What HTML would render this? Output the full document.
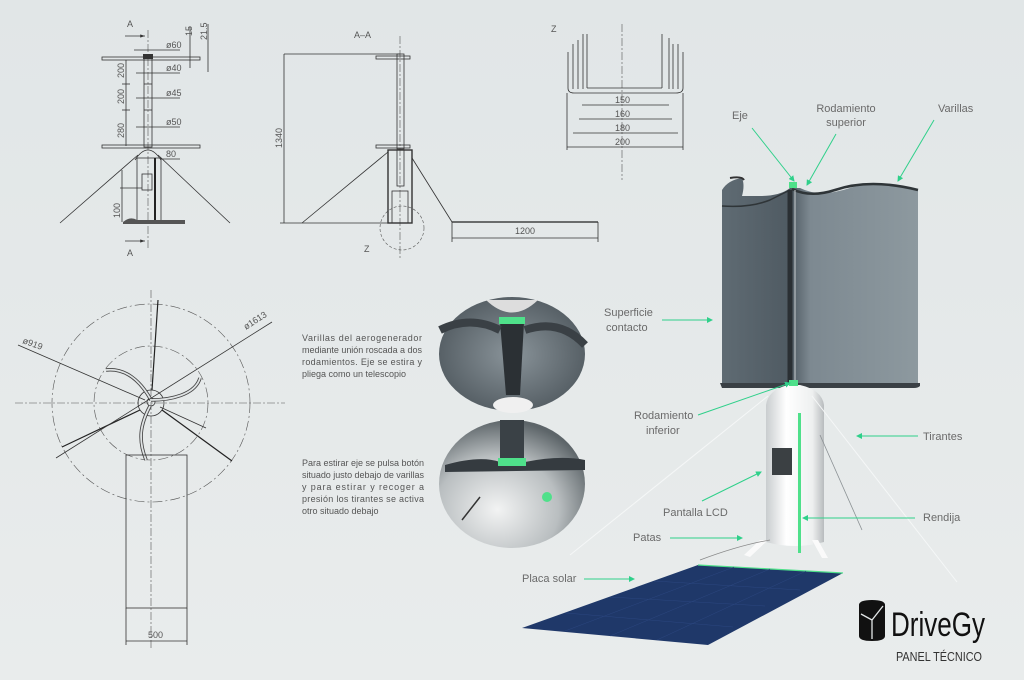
<!DOCTYPE html>
<html><head><meta charset="utf-8"><style>
html,body{margin:0;padding:0;width:1024px;height:680px;overflow:hidden;background:#e3e7e8;}
svg{display:block;font-family:"Liberation Sans",sans-serif;}
.t{font-size:9px;fill:#555;}
.l{font-size:11px;fill:#6a6a6a;}
.d{stroke:#333;stroke-width:0.8;fill:none;}
.c{stroke:#555;stroke-width:0.6;stroke-dasharray:8 2 2 2;fill:none;}
.g{stroke:#2fd08a;stroke-width:1;fill:none;}
.p{font-size:9px;fill:#555;}
</style></head><body>
<svg width="1024" height="680" viewBox="0 0 1024 680">
<defs>
<linearGradient id="bg" x1="0" y1="0" x2="0" y2="1"><stop offset="0" stop-color="#e1e6e7"/><stop offset="1" stop-color="#e9ecec"/></linearGradient>
<linearGradient id="cyl" x1="0" y1="0" x2="1" y2="0"><stop offset="0" stop-color="#c9cdcf"/><stop offset="0.35" stop-color="#ffffff"/><stop offset="0.8" stop-color="#eef0f0"/><stop offset="1" stop-color="#b8bcbe"/></linearGradient>
<linearGradient id="bl" x1="0" y1="0" x2="1" y2="0"><stop offset="0" stop-color="#5f6b73"/><stop offset="0.35" stop-color="#4f5a62"/><stop offset="0.45" stop-color="#7d8991"/><stop offset="1" stop-color="#8d999f"/></linearGradient>
<radialGradient id="ins1" cx="0.5" cy="0.5" r="0.6"><stop offset="0" stop-color="#8a949a"/><stop offset="1" stop-color="#4d565c"/></radialGradient>
<radialGradient id="ins2" cx="0.4" cy="0.7" r="0.7"><stop offset="0" stop-color="#f2f3f3"/><stop offset="0.6" stop-color="#b9bec0"/><stop offset="1" stop-color="#5d6569"/></radialGradient>
<marker id="ar" markerWidth="6" markerHeight="6" refX="5" refY="3" orient="auto"><path d="M0,0 L6,3 L0,6 z" fill="#2fd08a"/></marker>
<marker id="da" markerWidth="6" markerHeight="4" refX="6" refY="2" orient="auto"><path d="M0,0 L6,2 L0,4 z" fill="#333"/></marker>
</defs>
<rect width="1024" height="680" fill="url(#bg)"/>

<!-- Left elevation -->
<g>
<line class="c" x1="148" y1="30" x2="148" y2="248"/>
<text class="p" x="127" y="27">A</text><text class="p" x="127" y="256">A</text>
<path d="M125,36 h20" class="d" marker-end="url(#da)"/><path d="M125,241 h20" class="d" marker-end="url(#da)"/>
<rect x="102" y="57" width="98" height="3" class="d"/>
<rect x="102" y="145" width="98" height="3" class="d"/>
<rect x="144" y="57" width="8" height="90" class="d"/>
<line class="d" x1="144" y1="84" x2="152" y2="84"/><line class="d" x1="144" y1="110" x2="152" y2="110"/>
<rect x="143" y="54" width="10" height="5" fill="#333"/>
<path d="M135,160 Q148,140 161,160" class="d"/>
<rect x="137" y="158" width="24" height="65" class="d"/>
<rect x="142" y="174" width="10" height="16" class="d"/>
<line x1="155" y1="158" x2="155" y2="223" stroke="#222" stroke-width="2"/>
<path d="M123,222 Q130,216 137,220 L185,220 L185,224 L123,224z" fill="#555"/>
<line class="d" x1="138" y1="155" x2="60" y2="223"/><line class="d" x1="158" y1="155" x2="230" y2="223"/>
<line class="d" x1="126" y1="60" x2="126" y2="146"/>
<line class="d" x1="122" y1="84" x2="130" y2="84"/><line class="d" x1="122" y1="110" x2="130" y2="110"/>
<text class="p" transform="translate(124,78) rotate(-90)">200</text>
<text class="p" transform="translate(124,104) rotate(-90)">200</text>
<text class="p" transform="translate(124,138) rotate(-90)">280</text>
<line class="d" x1="134" y1="50" x2="180" y2="50"/><text class="p" x="166" y="48">ø60</text>
<line class="d" x1="136" y1="73" x2="180" y2="73"/><text class="p" x="166" y="71">ø40</text>
<line class="d" x1="136" y1="98" x2="180" y2="98"/><text class="p" x="166" y="96">ø45</text>
<line class="d" x1="136" y1="127" x2="180" y2="127"/><text class="p" x="166" y="125">ø50</text>
<line class="d" x1="190" y1="27" x2="190" y2="68"/><text class="p" transform="translate(192,36) rotate(-90)">15</text>
<line class="d" x1="208" y1="24" x2="208" y2="72"/><text class="p" transform="translate(207,40) rotate(-90)">21.5</text>
<text class="p" x="166" y="157">80</text><line class="d" x1="160" y1="159" x2="180" y2="159"/>
<line class="d" x1="122" y1="170" x2="122" y2="222"/><line class="d" x1="120" y1="188" x2="142" y2="188"/>
<text class="p" transform="translate(120,218) rotate(-90)">100</text>
</g>

<!-- A-A section -->
<g>
<text class="p" x="354" y="38">A–A</text>
<line class="c" x1="400" y1="36" x2="400" y2="258"/>
<rect x="376" y="56" width="34" height="3" class="d"/>
<rect x="376" y="145" width="34" height="3" class="d"/>
<rect x="397" y="54" width="7" height="95" class="d"/>
<rect x="388" y="150" width="24" height="73" fill="none" stroke="#333" stroke-width="1.4"/>
<rect x="397" y="150" width="7" height="36" class="d"/><rect x="392" y="191" width="16" height="32" class="d"/>
<line class="d" x1="284" y1="54" x2="400" y2="54"/><line class="d" x1="284" y1="54" x2="284" y2="223"/>
<line class="d" x1="280" y1="223" x2="390" y2="223"/>
<text class="p" transform="translate(282,148) rotate(-90)">1340</text>
<line class="d" x1="388" y1="152" x2="302" y2="223"/>
<line class="d" x1="412" y1="158" x2="452" y2="222"/>
<line x1="452" y1="222" x2="598" y2="222" stroke="#222" stroke-width="1.3"/>
<line class="d" x1="452" y1="222" x2="452" y2="242"/><line class="d" x1="598" y1="222" x2="598" y2="242"/>
<line class="d" x1="452" y1="238" x2="598" y2="238"/><text class="p" x="515" y="234">1200</text>
<circle cx="402" cy="228" r="22" fill="none" stroke="#555" stroke-width="0.6" stroke-dasharray="3 2"/>
<text class="p" x="364" y="252">Z</text>
</g>

<!-- Z detail -->
<g>
<text class="p" x="551" y="32">Z</text>
<line class="c" x1="622" y1="24" x2="622" y2="180"/>
<path d="M568,52 V88 Q568,93 574,93 H676 Q683,93 683,88 V52" class="d"/>
<line class="d" x1="573" y1="44" x2="573" y2="89"/><line class="d" x1="578" y1="40" x2="578" y2="89"/><line class="d" x1="583" y1="34" x2="583" y2="89"/>
<line class="d" x1="587" y1="34" x2="587" y2="88"/><line class="d" x1="587" y1="88" x2="662" y2="88"/>
<line class="d" x1="662" y1="34" x2="662" y2="88"/><line class="d" x1="669" y1="38" x2="669" y2="89"/><line class="d" x1="673" y1="44" x2="673" y2="89"/><line class="d" x1="678" y1="44" x2="678" y2="89"/>
<line class="d" x1="582" y1="105" x2="669" y2="105"/><text class="p" x="615" y="103">150</text>
<line class="d" x1="579" y1="119" x2="672" y2="119"/><text class="p" x="615" y="117">160</text>
<line class="d" x1="573" y1="133" x2="678" y2="133"/><text class="p" x="615" y="131">180</text>
<line class="d" x1="567" y1="147" x2="683" y2="147"/><text class="p" x="615" y="145">200</text>
<line class="d" x1="567" y1="93" x2="567" y2="150"/><line class="d" x1="683" y1="93" x2="683" y2="150"/>
</g>

<!-- Top view -->
<g>
<line class="c" x1="15" y1="403" x2="285" y2="403"/>
<line class="c" x1="151" y1="290" x2="151" y2="650"/>
<circle cx="151" cy="403" r="99" fill="none" stroke="#555" stroke-width="0.6" stroke-dasharray="10 3 2 3"/>
<circle cx="151" cy="403" r="57" fill="none" stroke="#555" stroke-width="0.6" stroke-dasharray="10 3 2 3"/>
<circle cx="151" cy="403" r="13" class="d"/><circle cx="151" cy="402" r="4" class="d"/>
<line x1="152" y1="390" x2="158" y2="300" stroke="#222" stroke-width="1.2"/>
<line x1="140" y1="410" x2="62" y2="447" stroke="#222" stroke-width="1.2"/>
<line x1="162" y1="410" x2="232" y2="461" stroke="#222" stroke-width="1.2"/>
<path d="M151,400 C140,380 125,368 106,370 M151,400 C170,400 195,395 200,378 M150,406 C140,425 138,440 146,460" stroke="#444" stroke-width="3.5" fill="none"/>
<path d="M151,400 C140,380 125,368 106,370 M151,400 C170,400 195,395 200,378 M150,406 C140,425 138,440 146,460" stroke="#dfe3e4" stroke-width="1.8" fill="none"/>
<line class="d" x1="18" y1="345" x2="145" y2="400"/><text class="p" transform="translate(22,343) rotate(20)">ø919</text>
<line class="d" x1="56" y1="458" x2="272" y2="322"/><text class="p" transform="translate(246,330) rotate(-33)">ø1613</text>
<line class="d" x1="160" y1="407" x2="206" y2="428"/>
<rect x="126" y="455" width="61" height="153" class="d"/>
<line class="d" x1="126" y1="608" x2="126" y2="645"/><line class="d" x1="187" y1="608" x2="187" y2="645"/>
<line class="d" x1="126" y1="641" x2="187" y2="641"/><text class="p" x="148" y="638">500</text>
</g>

<!-- Text blocks -->
<g class="t">
<text x="302" y="341" textLength="120">Varillas del aerogenerador</text>
<text x="302" y="353" textLength="120">mediante unión roscada a dos</text>
<text x="302" y="365" textLength="120">rodamientos. Eje se estira y</text>
<text x="302" y="377">pliega como un telescopio</text>
<text x="302" y="466" textLength="122">Para estirar eje se pulsa botón</text>
<text x="302" y="478" textLength="122">situado justo debajo de varillas</text>
<text x="302" y="490" textLength="122">y para estirar y recoger a</text>
<text x="302" y="502" textLength="122">presión los tirantes se activa</text>
<text x="302" y="514">otro situado debajo</text>
</g>

<!-- Insets -->
<ellipse cx="512" cy="354" rx="73" ry="57" fill="url(#ins1)"/>
<path d="M486,300 Q512,325 538,300" fill="#ddd"/>
<path d="M500,322 L524,322 L520,395 L506,395z" fill="#2b3034"/>
<rect x="499" y="317" width="26" height="7" fill="#4fe08a"/>
<path d="M440,330 Q470,315 500,330 M525,330 Q560,318 585,345" stroke="#3a4045" stroke-width="8" fill="none"/>
<ellipse cx="513" cy="405" rx="20" ry="8" fill="#f0f0f0"/>
<ellipse cx="512" cy="484" rx="73" ry="64" fill="url(#ins2)"/>
<rect x="500" y="420" width="24" height="40" fill="#3a4146"/>
<path d="M445,465 Q480,455 500,462 L525,462 Q560,455 585,460 L585,470 L445,472z" fill="#353b40"/>
<rect x="498" y="458" width="28" height="8" fill="#4fe08a"/>
<circle cx="547" cy="497" r="5" fill="#4fe08a"/>
<line x1="480" y1="497" x2="462" y2="520" stroke="#333" stroke-width="1.5"/>

<!-- Turbine blades -->
<path d="M722,200 L722,384 L918,384 L918,190 Q870,180 850,188 Q820,198 800,188 L790,188 Q780,196 760,196 L742,196 Q745,185 742,178 Q728,180 722,190z" fill="url(#bl)"/>
<path d="M730,178 Q742,176 744,180" stroke="#333" stroke-width="2" fill="none"/>
<path d="M792,189 Q810,198 835,190 Q870,178 918,190" stroke="#2f3538" stroke-width="2.5" fill="none"/>
<path d="M722,206 Q750,208 770,200 Q780,195 790,190" stroke="#2f3538" stroke-width="1.5" fill="none"/>
<line x1="790" y1="190" x2="790" y2="384" stroke="#2a2f33" stroke-width="5"/>
<line x1="795" y1="190" x2="795" y2="384" stroke="#c8cdd0" stroke-width="1"/>
<rect x="789" y="182" width="8" height="6" fill="#4fe08a"/>
<path d="M720,383 H920 V386 Q918,388 914,388 H722z" fill="#3a4045"/>
<!-- Base -->
<path d="M788,385 Q768,390 766,405 L766,542 Q795,550 824,542 L824,405 Q822,390 800,385z" fill="url(#cyl)"/>
<rect x="789" y="380" width="9" height="6" fill="#4fe08a"/>
<rect x="772" y="448" width="20" height="27" fill="#3b4043"/>
<rect x="798" y="413" width="3" height="140" fill="#4fe08a"/>
<path d="M760,540 L744,555 L750,557 L768,540z M812,540 L822,558 L828,558 L818,540z" fill="#fafafa"/>
<path d="M770,540 Q740,545 700,560" stroke="#888" stroke-width="0.8" fill="none"/>
<line x1="768" y1="396" x2="570" y2="555" stroke="#f5f7f7" stroke-width="1"/>
<line x1="812" y1="396" x2="957" y2="582" stroke="#f5f7f7" stroke-width="1"/>
<line x1="820" y1="435" x2="862" y2="530" stroke="#8b9194" stroke-width="0.8"/>
<!-- Solar panel -->
<path d="M522,628 L698,565 L843,573 L708,645z" fill="#1f3869"/>
<line x1="698" y1="565" x2="843" y2="573" stroke="#4fe08a" stroke-width="1.2"/>
<g stroke="#2c4780" stroke-width="0.5">
<line x1="566" y1="613" x2="733" y2="627"/><line x1="610" y1="597" x2="765" y2="606"/><line x1="654" y1="581" x2="800" y2="590"/>
<line x1="565" y1="631" x2="734" y2="567"/><line x1="610" y1="636" x2="770" y2="569"/><line x1="657" y1="640" x2="806" y2="571"/>
</g>

<!-- Labels -->
<g class="l">
<text x="732" y="119">Eje</text>
<text x="846" y="112" text-anchor="middle">Rodamiento</text><text x="846" y="126" text-anchor="middle">superior</text>
<text x="938" y="112">Varillas</text>
<text x="604" y="316">Superficie</text><text x="606" y="331">contacto</text>
<text x="634" y="419">Rodamiento</text><text x="646" y="434">inferior</text>
<text x="923" y="440">Tirantes</text>
<text x="663" y="516">Pantalla LCD</text>
<text x="923" y="521">Rendija</text>
<text x="633" y="541">Patas</text>
<text x="522" y="582">Placa solar</text>
</g>
<g class="g">
<line x1="752" y1="128" x2="794" y2="181" marker-end="url(#ar)"/>
<line x1="836" y1="134" x2="807" y2="185" marker-end="url(#ar)"/>
<line x1="934" y1="120" x2="898" y2="181" marker-end="url(#ar)"/>
<line x1="662" y1="320" x2="712" y2="320" marker-end="url(#ar)"/>
<line x1="698" y1="415" x2="790" y2="383" marker-end="url(#ar)"/>
<line x1="918" y1="436" x2="857" y2="436" marker-end="url(#ar)"/>
<line x1="702" y1="501" x2="761" y2="472" marker-end="url(#ar)"/>
<line x1="915" y1="518" x2="803" y2="518" marker-end="url(#ar)"/>
<line x1="670" y1="538" x2="742" y2="538" marker-end="url(#ar)"/>
<line x1="584" y1="579" x2="634" y2="579" marker-end="url(#ar)"/>
</g>

<!-- Logo -->
<g>
<path d="M859,605 Q859,600 872,600 Q885,600 885,605 L885,636 Q885,641 872,641 Q859,641 859,636z" fill="#111"/>
<path d="M861,614 L872,620 L883,606 M872,620 L872,639" stroke="#e3e7e8" stroke-width="1.3" fill="none"/>
<text x="891" y="636" font-size="34" fill="#111" textLength="94" lengthAdjust="spacingAndGlyphs">DriveGy</text>
<text x="896" y="661" font-size="13" fill="#333" textLength="86" lengthAdjust="spacingAndGlyphs">PANEL TÉCNICO</text>
</g>
</svg>
</body></html>
